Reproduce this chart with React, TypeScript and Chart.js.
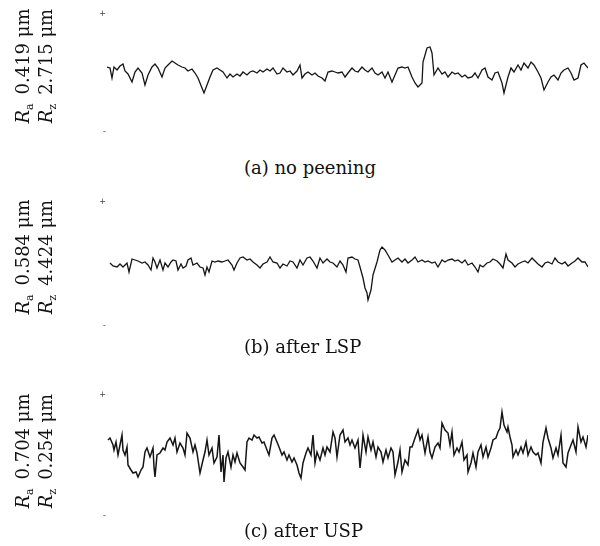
import React, { useEffect, useRef } from 'react';
import { Chart, registerables } from 'chart.js';

Chart.register(...registerables);

// Profile (a) no peening: distance along trace, height
const aDist = [0,3,5,7,10,13,16,18,21,25,28,31,35,38,41,45,48,51,55,58,61,65,68,71,75,78,81,85,88,91,95,97,100,103,106,110,113,116,120,123,126,130,133,136,140,143,146,150,153,156,160,163,166,170,173,176,180,183,186,190,193,195,198,201,205,208,211,215,218,221,225,228,231,235,238,241,245,248,251,255,258,261,265,268,271,275,278,281,285,288,291,295,298,301,305,308,311,315,316,320,323,325,327,331,335,338,341,345,348,351,355,358,361,365,368,371,375,378,381,385,388,391,395,397,401,404,407,411,414,417,421,424,427,431,434,437,441,444,447,451,454,457,461,464,467,471,474,477,481];
const aHeight = [6,5,-5,6,3,7,9,2,-1,-9,1,5,0,-12,-2,6,9,5,-4,5,8,12,10,8,6,5,2,4,0,-5,-15,-20,-12,-4,3,5,3,1,-5,-1,-4,-1,-3,1,-2,1,2,0,3,1,4,2,5,-1,0,5,1,2,-2,2,8,-5,-1,1,-2,0,-3,-5,-8,1,2,1,0,1,-4,0,5,2,1,6,3,1,5,0,-2,1,-5,1,-9,-2,5,6,5,6,-4,-10,-14,-10,11,25,26,20,-2,5,-1,1,-4,1,-1,0,-4,-2,-5,-4,0,-5,3,5,-4,-7,0,1,-10,-20,-4,5,1,8,3,10,5,11,8,1,-5,-17,-9,-4,-2,-7,0,3,5,0,-7,-5,8,10,5];

// Profile (b) after LSP
const bDist = [3,6,10,13,16,20,22,25,28,31,35,38,41,44,46,48,50,53,56,58,61,64,66,69,71,74,76,79,81,84,86,90,93,96,98,100,102,105,108,111,115,118,121,125,127,130,133,136,140,143,146,150,153,156,160,163,166,170,173,176,180,183,186,190,193,196,200,203,206,210,213,216,220,223,226,230,233,236,239,241,245,248,251,253,256,258,260,261,264,266,270,273,275,278,281,285,288,291,295,298,301,305,308,311,315,318,321,325,328,331,335,338,341,345,348,351,355,358,361,365,368,371,373,376,380,383,386,390,393,396,399,401,405,408,411,415,418,421,425,428,431,435,438,441,445,448,451,455,458,461,465,468,471,475,478,481];
const bHeight = [1,-2,-3,0,-3,1,-8,5,4,3,1,2,-1,-6,6,2,-4,4,-6,1,-3,2,4,3,-6,0,-4,-2,4,6,-1,1,-3,-4,-11,-3,-8,3,2,3,2,3,4,-1,-6,1,6,7,4,5,2,-1,-4,0,2,7,2,1,-4,0,-2,3,2,-4,4,-1,6,7,3,-4,6,1,5,2,1,-3,3,-1,-8,6,7,5,4,-3,-14,-24,-29,-36,-26,-11,2,14,17,14,9,2,4,6,2,5,1,4,7,2,4,2,3,1,2,-3,4,2,4,5,3,4,1,4,-1,1,-3,-8,-1,-3,1,2,5,3,0,-4,10,4,1,-3,0,2,3,1,6,3,0,-3,1,2,0,6,2,0,2,-2,1,3,6,2,2,-3];

// Profile (c) after USP
const cDist = [1,3,6,7,9,11,13,15,16,18,20,21,24,26,29,31,34,36,38,40,43,46,47,48,50,53,56,58,60,63,66,68,70,73,76,78,80,83,86,88,90,93,96,98,100,102,105,107,110,112,114,116,117,119,121,124,126,128,130,133,136,138,140,142,145,147,150,152,155,157,160,162,165,167,170,172,175,177,180,182,185,187,190,192,194,196,199,201,204,206,208,210,213,216,218,220,223,226,228,230,233,236,238,241,243,245,248,251,253,255,256,259,261,264,266,269,271,274,276,279,281,284,286,288,291,293,295,298,301,303,305,308,311,313,315,318,321,323,325,328,331,333,335,338,341,343,345,347,350,352,355,357,360,361,364,366,369,371,374,376,379,381,384,386,389,391,393,395,397,400,401,403,405,406,409,411,414,416,419,421,424,426,429,431,434,436,439,441,444,446,449,451,454,456,459,461,464,466,469,471,474,476,479,481];
const cHeight = [15,17,10,5,13,0,10,20,5,0,8,-10,-15,-18,-17,-22,-15,-12,3,7,-2,7,-12,-22,0,2,7,5,13,17,10,17,3,12,7,0,22,17,3,10,2,-18,-5,3,15,0,7,-8,-2,20,-17,0,-27,-3,3,-12,0,-7,2,-8,-12,-15,13,17,15,20,17,18,12,13,5,0,17,20,13,8,0,3,-5,0,-7,-3,-10,-18,-23,-8,2,7,0,20,-8,3,-5,7,0,8,3,23,17,-2,20,25,13,17,10,15,7,15,-13,7,20,3,18,5,13,-2,8,3,-7,5,-3,7,3,-20,-7,5,-17,-5,-10,8,8,17,25,15,20,2,18,3,-3,8,12,7,32,25,22,10,23,0,7,3,13,-5,0,-17,-8,2,-12,3,10,-2,8,-2,7,15,17,23,27,43,30,23,28,18,10,-2,5,0,8,2,13,0,8,3,0,2,-8,13,27,17,7,-3,7,0,20,-8,-12,2,10,15,3,28,13,18,8,20];

const captions = ['(a) no peening', '(b) after LSP', '(c) after USP'];
const raValues = ['0.419', '0.584', '0.704'];
const rzValues = ['2.715', '4.424', '0.254'];
const signLabels = ['+', '-'];
const distMax = 481;

type PanelProps = {
  dist: number[];
  height: number[];
  yMin: number;
  yMax: number;
  top: number;
  canvasHeight: number;
  padTop: number;
  padBottom: number;
  lineWidth: number;
};

function Profile({ dist, height, yMin, yMax, top, canvasHeight, padTop, padBottom, lineWidth }: PanelProps) {
  const ref = useRef<HTMLCanvasElement | null>(null);
  useEffect(() => {
    if (!ref.current) return;
    const n = Math.min(dist.length, height.length);
    const pts = [] as { x: number; y: number }[];
    for (let i = 0; i < n; i++) pts.push({ x: dist[i], y: height[i] });
    const chart = new Chart(ref.current, {
      type: 'line',
      data: {
        datasets: [
          {
            data: pts,
            borderColor: '#151515',
            borderWidth: lineWidth,
            pointRadius: 0,
            tension: 0,
            fill: false,
          },
        ],
      },
      options: {
        responsive: false,
        animation: false,
        events: [],
        layout: { padding: { left: 97, right: 12, top: padTop, bottom: padBottom } },
        plugins: { legend: { display: false }, tooltip: { enabled: false } },
        scales: {
          x: { type: 'linear', min: 0, max: distMax, display: false },
          y: {
            type: 'linear',
            min: yMin,
            max: yMax,
            grid: { display: false, drawTicks: false },
            border: { display: false },
            afterBuildTicks: (s: any) => {
              s.ticks = [{ value: yMin }, { value: yMax }];
            },
            afterFit: (s: any) => {
              s.width = 10;
            },
            ticks: {
              padding: 1,
              color: '#444',
              font: { size: 8, family: 'DejaVu Sans' },
              callback: (v: any) => (v > 0 ? signLabels[0] : signLabels[1]),
            },
          },
        },
      },
    });
    return () => chart.destroy();
  }, []);
  return (
    <canvas
      ref={ref}
      width={600}
      height={canvasHeight}
      style={{ position: 'absolute', left: 0, top, width: 600, height: canvasHeight }}
    />
  );
}

const serif = '"DejaVu Serif", "Liberation Serif", serif';

function Caption({ text, centerY }: { text: string; centerY: number }) {
  return (
    <div
      style={{
        position: 'absolute',
        left: 244,
        top: centerY - 11,
        height: 22,
        lineHeight: '22px',
        fontFamily: serif,
        fontSize: 18,
        color: '#111',
        whiteSpace: 'nowrap',
      }}
    >
      {text}
    </div>
  );
}

function RotLabel({ sub, value, cx, cy }: { sub: string; value: string; cx: number; cy: number }) {
  return (
    <div
      style={{
        position: 'absolute',
        left: cx,
        top: cy,
        transform: 'translate(-50%, -50%) rotate(-90deg)',
        fontFamily: serif,
        fontSize: 18,
        lineHeight: '18px',
        color: '#111',
        whiteSpace: 'nowrap',
      }}
    >
      <i>R</i>
      <sub style={{ fontSize: 11, verticalAlign: '-4px' }}>{sub}</sub>
      {'\u2002'}
      {value} μm
    </div>
  );
}

export default function App() {
  const labelCenters = [66, 257, 451];
  return (
    <div style={{ position: 'fixed', left: 0, top: 0, width: 600, height: 546, background: '#fff', overflow: 'hidden' }}>
      <Profile dist={aDist} height={aHeight} yMin={-59} yMax={59} top={0} canvasHeight={150} padTop={14} padBottom={18} lineWidth={1.3} />
      <Profile dist={bDist} height={bHeight} yMin={-62} yMax={62} top={185} canvasHeight={155} padTop={17} padBottom={14} lineWidth={1.3} />
      <Profile dist={cDist} height={cHeight} yMin={-61} yMax={60} top={375} canvasHeight={155} padTop={20} padBottom={14} lineWidth={1.5} />
      {labelCenters.map((cy, i) => (
        <React.Fragment key={i}>
          <RotLabel sub="a" value={raValues[i]} cx={26} cy={cy} />
          <RotLabel sub="z" value={rzValues[i]} cx={49} cy={cy} />
        </React.Fragment>
      ))}
      <Caption text={captions[0]} centerY={168} />
      <Caption text={captions[1]} centerY={347} />
      <Caption text={captions[2]} centerY={531} />
    </div>
  );
}
